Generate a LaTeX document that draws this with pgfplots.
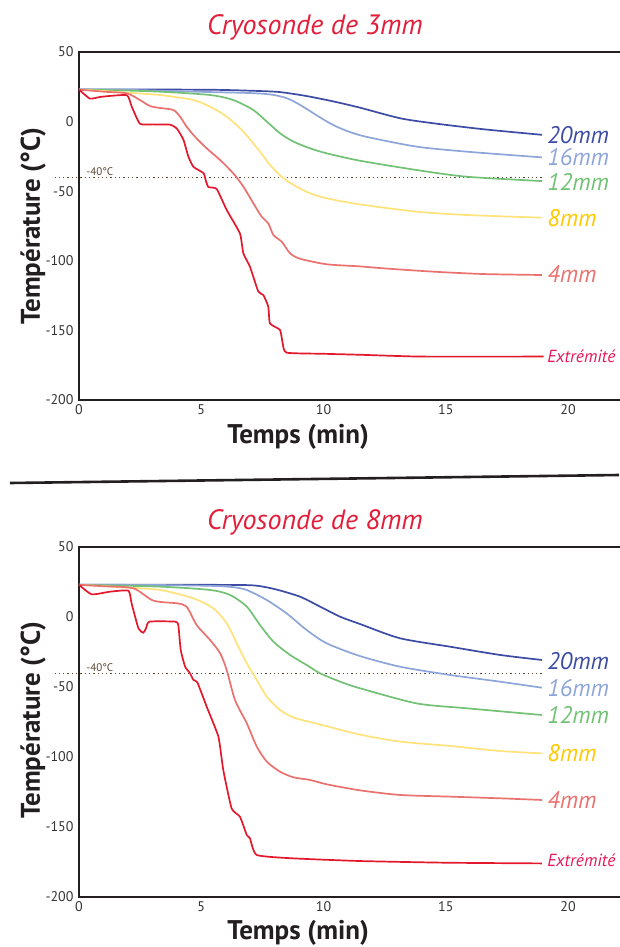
\documentclass[border=0pt]{standalone}
\usepackage{fontspec}
\setmainfont{PT Sans}
\usepackage{pgfplots}
\pgfplotsset{compat=1.18}
\definecolor{c20}{HTML}{3C4BA3}
\definecolor{c16}{HTML}{8EA5DA}
\definecolor{c12}{HTML}{72C174}
\definecolor{c8}{HTML}{FFE27A}
\definecolor{c8l}{HTML}{FFC800}
\definecolor{c4}{HTML}{EA716E}
\definecolor{cext}{HTML}{E3182D}
\definecolor{cextl}{HTML}{E6185A}
\definecolor{ctitle}{HTML}{E31E3A}
\definecolor{framec}{HTML}{231F20}
\definecolor{tickgray}{HTML}{333333}
\definecolor{brownc}{HTML}{5A4632}
\pgfplotsset{cryo/.style={
  scale only axis, width=550pt, xmin=0, xmax=22.49, ymin=-200, ymax=50,
  xtick={0,5,10,15,20}, ytick={-200,-150,-100,-50,0,50},
  xticklabels={0,5,10,15,20}, yticklabels={-200,-150,-100,-50,0,50},
  major tick length=0pt,
  tick label style={font=\fontsize{14}{16}\selectfont, text=tickgray},
  xticklabel style={yshift=-1pt},
  yticklabel style={xshift=-2pt},
  axis line style={line width=2.2pt, draw=framec},
  clip=false,
  every axis plot/.append style={line width=1.7pt, smooth, tension=0.45},
  xlabel={Temps (min)}, ylabel={Température (°C)},
  label style={font=\fontsize{27}{30}\selectfont\bfseries, text=framec},
  },
  refline/.style={draw=brownc, line width=0.9pt, dash pattern=on 1.3pt off 3pt, sharp plot},
}
\tikzset{
  lab/.style={anchor=west, inner sep=1pt, font=\fontsize{24}{26}\selectfont\itshape},
  labext/.style={anchor=west, inner sep=1pt, font=\fontsize{17.5}{19}\selectfont\itshape, text=cextl},
  reflab/.style={anchor=south west, inner sep=1pt, font=\fontsize{11}{12}\selectfont, text=brownc},
  ttl/.style={font=\fontsize{28}{32}\selectfont\itshape, text=ctitle}
}
\begin{document}
\begin{tikzpicture}[x=1pt,y=1pt]
\useasboundingbox (0,0) rectangle (619,-947);
\node[ttl] at (315,-27) {Cryosonde de 3mm};
\node[ttl] at (315,-522) {Cryosonde de 8mm};
\draw[line width=2.6pt, draw=framec] (10,-483) -- (619,-475);

% ---------- top chart ----------
\begin{axis}[cryo, at={(79pt,-400pt)}, anchor=south west, height=348pt,
  xlabel style={at={(axis description cs:0.3984,-0.1063)}, anchor=center},
  ylabel style={at={(axis description cs:-0.0836,0.5)}, anchor=center}]
\addplot[refline] coordinates {(-1,-40) (19,-40)};
\node[reflab] at (axis cs:0.25,-40) {-40°C};
\addplot[c20] coordinates {(0,23)(4,23)(6,22.7)(8.0,21.5)(8.8,19.8)(9.45,17.9)(10.40,14.5)(11.49,10)(13.13,2.4)(14.49,-1.2)(16.54,-5.5)(18.93,-9.5)};
\addplot[c16] coordinates {(0,23)(2,22.8)(4.68,21.5)(7.0,20.5)(7.9,19.3)(8.5,16.8)(9.04,12)(9.86,3)(10.40,-2.5)(11.0,-7)(11.77,-11)(13.81,-18)(15.86,-21.6)(18.93,-25.7)};
\addplot[c12] coordinates {(0,23)(1.5,22.5)(3.31,21.5)(5.36,19.1)(6.31,15.5)(7.13,8.3)(7.68,0)(8.22,-8.4)(8.77,-14.4)(9.45,-19.2)(10.13,-22.8)(11.49,-28.1)(13.81,-34.8)(15.86,-39.6)(18.93,-42.7)};
\addplot[c8] coordinates {(0,23)(1,22)(1.95,20.8)(3.31,19.1)(4.68,15.5)(5.36,10.7)(6.04,3.6)(6.72,-7.2)(7.40,-21.6)(7.81,-31.2)(8.29,-39.6)(8.77,-45.5)(9.45,-51.5)(10.13,-55.1)(11.49,-59.5)(13.81,-64.7)(15.86,-67.1)(18.93,-69)};
\addplot[c4] coordinates {(0,23)(1,21.5)(1.95,20.3)(2.49,15.5)(2.9,11.2)(3.31,9.8)(3.86,8.3)(4.13,3.6)(4.40,-3.6)(4.74,-10.8)(5.22,-19.2)(5.77,-27.6)(6.31,-37.2)(6.72,-46.7)(7.13,-58.7)(7.47,-68.3)(7.74,-73.1)(7.95,-81.5)(8.29,-86.3)(8.63,-94.6)(9.04,-98.5)(10.13,-102.5)(11.49,-104)(12.44,-105.4)(14.49,-107.8)(16.54,-109.5)(18.93,-110.2)};
\addplot[cext, tension=0.3] coordinates {(0,23)(0.45,16.5)(0.9,17.8)(1.95,19)(2.15,11)(2.49,-1.5)(3.0,-2)(3.72,-2.2)(4.0,-5)(4.27,-13)(4.47,-25)(4.68,-32.5)(5.09,-37)(5.18,-42)(5.29,-47)(5.63,-48.4)(6.04,-63.5)(6.58,-80.3)(6.72,-94.6)(6.99,-104.2)(7.33,-122)(7.54,-124.6)(7.74,-133)(7.81,-145)(8.22,-149.7)(8.33,-159.3)(8.49,-166)(10,-166.8)(11.5,-167.5)(14,-168.8)(19,-168.8)};
\node[lab, text=c20] at (axis cs:19.1,-9.5) {20mm};
\node[lab, text=c16] at (axis cs:19.1,-25.5) {16mm};
\node[lab, text=c12] at (axis cs:19.1,-43.5) {12mm};
\node[lab, text=c8l] at (axis cs:19.1,-69.3) {8mm};
\node[lab, text=c4] at (axis cs:19.1,-109.5) {4mm};
\node[labext] at (axis cs:19.1,-168.4) {Extrémité};
\end{axis}

% ---------- bottom chart ----------
\begin{axis}[cryo, at={(79pt,-897pt)}, anchor=south west, height=350pt,
  xlabel style={at={(axis description cs:0.3984,-0.1025)}, anchor=center},
  ylabel style={at={(axis description cs:-0.0836,0.5056)}, anchor=center}]
\addplot[refline] coordinates {(-1,-40) (19,-40)};
\node[reflab] at (axis cs:0.25,-40) {-40°C};
\addplot[c20] coordinates {(0,23)(4,23)(6.5,22.9)(7.3,22.3)(8.08,19.6)(9.04,14.5)(9.86,7.4)(10.68,0.2)(11.49,-5)(13.13,-15.2)(15.17,-21.2)(17.22,-27.1)(18.93,-30.7)};
\addplot[c16] coordinates {(0,23)(3,22.9)(5.5,22.2)(6.3,21.3)(6.86,19.3)(7.68,12.1)(8.49,2.6)(9.31,-9.3)(10.13,-18.8)(11.49,-27.9)(13.13,-35.5)(15.17,-41.4)(17.22,-46.2)(18.93,-50.5)};
\addplot[c12] coordinates {(0,23)(3.31,21.7)(5.36,19.3)(6.18,15.7)(6.86,7.4)(7.40,-5.7)(7.95,-17.6)(8.63,-27.1)(9.31,-34.3)(9.86,-40.2)(10.68,-46.2)(11.49,-50.9)(13.81,-61.7)(15.86,-65.2)(18.93,-70)};
\addplot[c8] coordinates {(0,23)(1.5,21.5)(3.31,19.3)(4.68,13.3)(5.49,6.2)(6.04,-4.5)(6.45,-18.8)(6.86,-33.1)(7.27,-45)(7.68,-56.9)(8.22,-66.4)(8.77,-71.8)(9.45,-75)(10.13,-78)(11.49,-84)(13.13,-89)(15.17,-92.1)(17.22,-95.7)(18.93,-97.4)};
\addplot[c4] coordinates {(0,23)(1,22)(2.22,20.5)(3.04,11.7)(3.99,9.8)(4.40,7.4)(4.81,-5.7)(5.36,-16.4)(5.77,-25.9)(6.04,-37.9)(6.38,-59.3)(6.86,-75.9)(7.27,-92.6)(7.68,-103.3)(8.22,-110.5)(8.77,-114.5)(9.45,-116.4)(10.13,-119.5)(11.49,-123.8)(13.13,-127.1)(15.17,-128.3)(17.22,-129.5)(18.93,-130.7)};
\addplot[cext, tension=0.3] coordinates {(0,23)(0.52,16.2)(1.27,18.1)(2.02,18.8)(2.15,9.8)(2.43,-8.1)(2.63,-11.2)(2.74,-8.1)(2.88,-3.3)(3.93,-3.3)(4.06,-5.7)(4.16,-23.6)(4.34,-35.5)(4.54,-40.2)(4.68,-45)(4.84,-46.7)(5.22,-64)(5.70,-85.5)(5.90,-109.3)(6.24,-136.7)(6.58,-142.6)(6.86,-155.7)(6.99,-158.1)(7.27,-170)(8.77,-172.4)(11.49,-174.3)(15,-175.5)(18.93,-176)};
\node[lab, text=c20] at (axis cs:19.1,-31.4) {20mm};
\node[lab, text=c16] at (axis cs:19.1,-50.7) {16mm};
\node[lab, text=c12] at (axis cs:19.1,-70) {12mm};
\node[lab, text=c8l] at (axis cs:19.1,-97.1) {8mm};
\node[lab, text=c4] at (axis cs:19.1,-130.7) {4mm};
\node[labext] at (axis cs:19.1,-173.6) {Extrémité};
\end{axis}
\end{tikzpicture}
\end{document}
